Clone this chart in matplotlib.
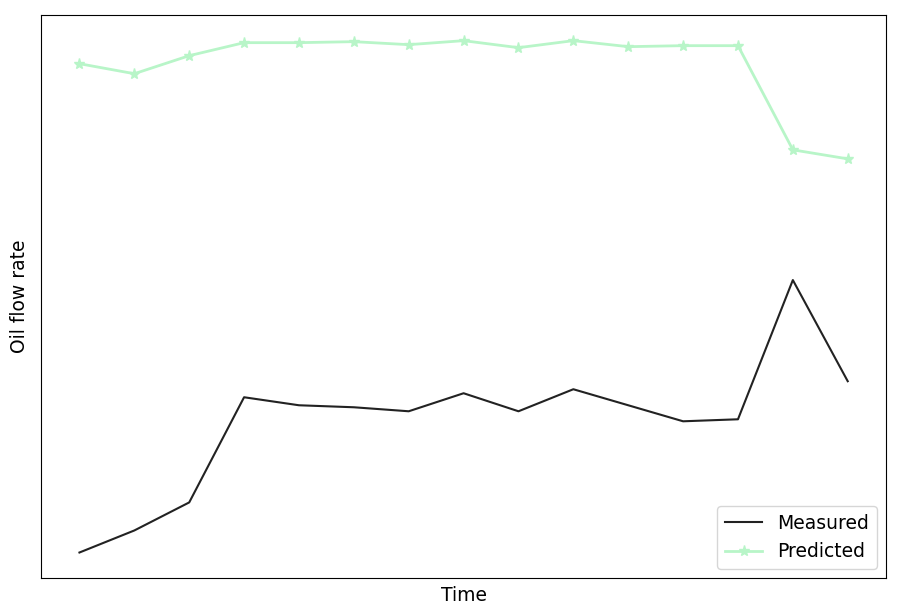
import numpy as np
import matplotlib.pyplot as plt

time_idx = np.arange(15)
measured = [26, 48, 76, 181, 173, 171, 167, 185, 167, 189, 173, 157, 159, 298, 197]
predicted = [514, 504, 522, 535, 535, 536, 533, 537, 530, 537, 531, 532, 532, 428, 419]

fig = plt.figure(figsize=(9, 6.15), dpi=100)
ax = fig.add_axes([0.0456, 0.060, 0.939, 0.9155])

ax.plot(time_idx, measured, color="#222222", linewidth=1.5, label="Measured")
ax.plot(time_idx, predicted, color="#b8f5c8", linewidth=2, marker="*",
        markersize=8, label="Predicted")

ax.set_xticks([])
ax.set_yticks([])
ax.set_xlabel("Time", fontsize=13.5, labelpad=6)
ax.set_ylabel("Oil flow rate", fontsize=13.5, labelpad=9)
ax.legend(loc="lower right", fontsize=13.5)

fig.savefig("out.png", dpi=100)
